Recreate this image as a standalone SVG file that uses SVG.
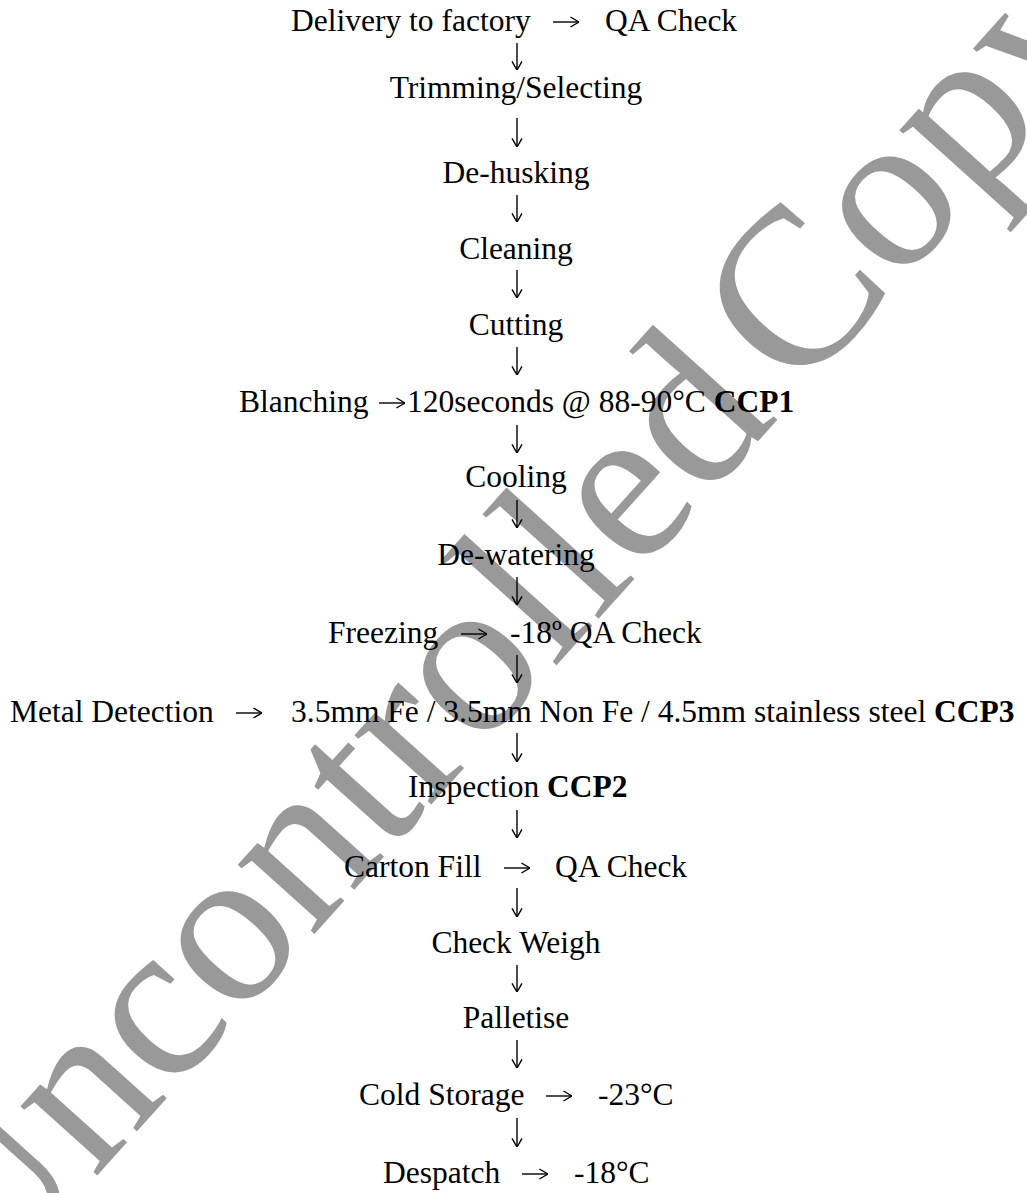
<svg xmlns="http://www.w3.org/2000/svg" width="1027" height="1193" viewBox="0 0 1027 1193" xml:space="preserve">
<style>
text { font-family: "Liberation Serif", "Times New Roman", serif; font-size: 31.5px; fill: #000; }
.c { text-anchor: middle; }
.b { font-weight: bold; }
.wm { font-size: 225px; fill: #999999; }
.ar { fill: none; stroke: #000; stroke-width: 1.4; marker-end: url(#ah); }
</style>
<defs>
<marker id="ah" viewBox="0 0 10 12" refX="9.6" refY="6" markerWidth="10" markerHeight="12" markerUnits="userSpaceOnUse" orient="auto">
<path d="M1,1 L9.6,6 L1,11" fill="none" stroke="#000" stroke-width="1.4"/>
</marker>
</defs>
<rect width="1027" height="1193" fill="#ffffff"/>
<g id="watermark">
<text class="wm" transform="translate(-15 1300) rotate(-48)">Uncontrolled <tspan dx="-30">Copy</tspan></text>
</g>
<g id="connectors">
<path class="ar" d="M517,43 V70"/>
<path class="ar" d="M517,118 V147"/>
<path class="ar" d="M517,195 V222"/>
<path class="ar" d="M517,270 V298"/>
<path class="ar" d="M517,347 V375"/>
<path class="ar" d="M517,425 V453"/>
<path class="ar" d="M517,500 V528"/>
<path class="ar" d="M517,577 V605"/>
<path class="ar" d="M517,655 V683"/>
<path class="ar" d="M517,733 V762"/>
<path class="ar" d="M517,810 V838"/>
<path class="ar" d="M517,888 V917"/>
<path class="ar" d="M517,965 V992"/>
<path class="ar" d="M517,1040 V1068"/>
<path class="ar" d="M517,1118 V1147"/>
<path class="ar" d="M553,22 H579"/>
<path class="ar" d="M379,403 H405"/>
<path class="ar" d="M461,634 H487"/>
<path class="ar" d="M236,713 H262"/>
<path class="ar" d="M504,868 H530"/>
<path class="ar" d="M546,1096 H572"/>
<path class="ar" d="M522,1174 H548"/>
</g>
<g id="n1"><text x="291" y="31">Delivery to factory</text><text x="605" y="31">QA Check</text></g>
<g id="n2"><text class="c" x="516" y="98">Trimming/Selecting</text></g>
<g id="n3"><text class="c" x="516" y="183">De-husking</text></g>
<g id="n4"><text class="c" x="516" y="259">Cleaning</text></g>
<g id="n5"><text class="c" x="516" y="335">Cutting</text></g>
<g id="n6"><text x="239" y="412">Blanching</text><text x="407" y="412">120seconds @ 88-90°C  <tspan class="b">CCP1</tspan></text></g>
<g id="n7"><text class="c" x="516" y="487">Cooling</text></g>
<g id="n8"><text class="c" x="516" y="565">De-watering</text></g>
<g id="n9"><text x="328" y="643">Freezing</text><text x="510" y="643">-18º QA Check</text></g>
<g id="n10"><text x="10" y="722">Metal Detection</text><text x="291" y="722">3.5mm Fe / 3.5mm Non Fe / 4.5mm stainless steel <tspan class="b">CCP3</tspan></text></g>
<g id="n11"><text x="408" y="797">Inspection <tspan class="b">CCP2</tspan></text></g>
<g id="n12"><text x="344" y="877">Carton Fill</text><text x="555" y="877">QA Check</text></g>
<g id="n13"><text class="c" x="516" y="953">Check Weigh</text></g>
<g id="n14"><text class="c" x="516" y="1028">Palletise</text></g>
<g id="n15"><text x="359" y="1105">Cold Storage</text><text x="598" y="1105">-23°C</text></g>
<g id="n16"><text x="383" y="1183">Despatch</text><text x="574" y="1183">-18°C</text></g>
</svg>
